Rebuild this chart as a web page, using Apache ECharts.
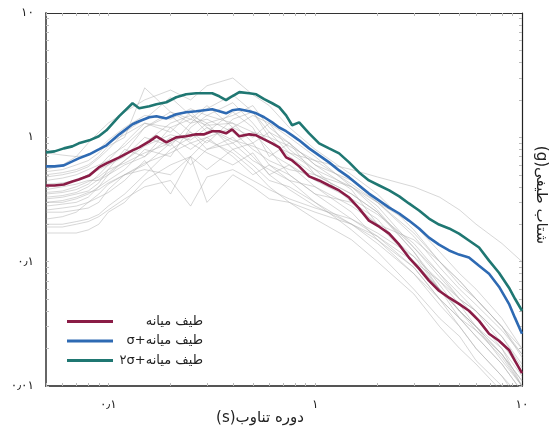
<!DOCTYPE html>
<html>
<head>
<meta charset="utf-8">
<script src="https://cdn.jsdelivr.net/npm/echarts@6/dist/echarts.min.js"></script>
<style>
  html, body { margin: 0; padding: 0; background: #fff; }
  #chart { width: 557px; height: 433px; }
</style>
</head>
<body>
<div id="chart"></div>
<script>
// periods (s) for the three summary curves
const periods = [0.05, 0.055, 0.061, 0.067, 0.072, 0.081, 0.09, 0.098, 0.113, 0.131, 0.141, 0.158, 0.171, 0.191,
  0.213, 0.238, 0.266, 0.291, 0.318, 0.344, 0.371, 0.397, 0.43, 0.48, 0.519, 0.567, 0.62, 0.67, 0.724, 0.774,
  0.837, 0.935, 1.045, 1.168, 1.306, 1.46, 1.63, 1.82, 2.04, 2.28, 2.55, 2.84, 3.18, 3.55, 3.97, 4.44, 4.96,
  5.54, 6.2, 6.93, 7.74, 8.65, 9.25, 10];

const median = [0.41, 0.41, 0.418, 0.442, 0.458, 0.494, 0.573, 0.617, 0.69, 0.786, 0.831, 0.928, 1.019, 0.911,
  1.0, 1.019, 1.057, 1.057, 1.118, 1.118, 1.077, 1.16, 1.019, 1.057, 1.038, 0.963, 0.895, 0.831, 0.69, 0.652,
  0.584, 0.485, 0.45, 0.41, 0.374, 0.328, 0.268, 0.214, 0.191, 0.168, 0.137, 0.108, 0.0878, 0.0703, 0.0584,
  0.0513, 0.0458, 0.0403, 0.0334, 0.0263, 0.0231, 0.0195, 0.0159, 0.0127];

const medianPlusSigma = [0.584, 0.584, 0.595, 0.64, 0.677, 0.73, 0.8, 0.862, 1.057, 1.273, 1.346, 1.45, 1.48, 1.42,
  1.533, 1.59, 1.62, 1.65, 1.68, 1.62, 1.56, 1.65, 1.68, 1.62, 1.56, 1.45, 1.32, 1.2, 1.12, 1.038,
  0.946, 0.815, 0.716, 0.629, 0.542, 0.476, 0.41, 0.353, 0.31, 0.272, 0.244, 0.214, 0.185, 0.156, 0.137,
  0.123, 0.114, 0.108, 0.0928, 0.08, 0.0629, 0.0458, 0.0353, 0.0263];

const medianPlus2Sigma = [0.757, 0.771, 0.815, 0.846, 0.895, 0.946, 1.019, 1.139, 1.48, 1.88, 1.714, 1.778, 1.845, 1.915,
  2.1, 2.22, 2.26, 2.26, 2.26, 2.14, 1.99, 2.14, 2.31, 2.26, 2.22, 2.03, 1.88, 1.75, 1.5, 1.25,
  1.32, 1.077, 0.895, 0.815, 0.743, 0.629, 0.522, 0.45, 0.41, 0.374, 0.335, 0.294, 0.258, 0.222, 0.199,
  0.185, 0.168, 0.148, 0.13, 0.102, 0.0815, 0.0617, 0.0503, 0.0403];

// individual record spectra (grey)
const recordPeriods = [0.05, 0.06, 0.07, 0.08, 0.09, 0.1, 0.12, 0.15, 0.2, 0.25, 0.3, 0.4, 0.5, 0.6, 0.75, 1, 1.5, 2, 3, 4, 5, 6, 8, 10];
const records = [
  [0.55, 0.6, 0.7, 0.9, 1.1, 1.3, 1.6, 2.0, 2.4, 2.0, 2.6, 3.0, 2.2, 1.8, 1.2, 0.8, 0.5, 0.35, 0.18, 0.1, 0.07, 0.05, 0.03, 0.02],
  [0.35, 0.36, 0.38, 0.42, 0.5, 0.6, 0.75, 1.2, 1.5, 1.1, 0.9, 1.4, 1.6, 1.0, 0.7, 0.5, 0.35, 0.25, 0.12, 0.06, 0.035, 0.025, 0.015, 0.009],
  [0.3, 0.3, 0.32, 0.35, 0.4, 0.45, 0.55, 0.8, 0.7, 1.2, 1.5, 1.3, 0.9, 1.1, 0.9, 0.6, 0.45, 0.3, 0.16, 0.09, 0.06, 0.045, 0.028, 0.018],
  [0.5, 0.52, 0.55, 0.6, 0.7, 0.85, 1.0, 2.5, 1.6, 1.4, 1.8, 1.2, 1.5, 1.3, 0.8, 0.55, 0.4, 0.28, 0.13, 0.08, 0.05, 0.04, 0.025, 0.015],
  [0.25, 0.25, 0.26, 0.27, 0.3, 0.38, 0.5, 0.6, 0.9, 0.6, 0.8, 1.0, 0.7, 0.5, 0.6, 0.4, 0.25, 0.15, 0.08, 0.05, 0.03, 0.02, 0.012, 0.007],
  [0.45, 0.47, 0.5, 0.55, 0.6, 0.65, 0.9, 1.3, 1.1, 1.6, 1.2, 0.9, 1.1, 0.8, 0.5, 0.35, 0.22, 0.16, 0.09, 0.05, 0.035, 0.028, 0.018, 0.011],
  [0.2, 0.2, 0.21, 0.22, 0.24, 0.28, 0.35, 0.5, 0.8, 1.0, 1.3, 0.8, 0.6, 0.45, 0.4, 0.3, 0.2, 0.14, 0.08, 0.045, 0.03, 0.02, 0.012, 0.008],
  [0.75, 0.72, 0.7, 0.72, 0.8, 0.95, 1.2, 1.5, 1.4, 1.7, 1.5, 1.9, 1.3, 0.9, 0.75, 0.65, 0.55, 0.48, 0.4, 0.33, 0.26, 0.2, 0.14, 0.1],
  [0.38, 0.4, 0.42, 0.45, 0.45, 0.5, 0.6, 0.7, 1.2, 0.9, 1.0, 0.7, 0.5, 0.6, 0.5, 0.35, 0.3, 0.22, 0.1, 0.06, 0.04, 0.03, 0.02, 0.012],
  [0.28, 0.29, 0.3, 0.33, 0.4, 0.5, 0.65, 0.9, 1.3, 1.5, 1.1, 1.6, 1.2, 0.7, 0.9, 0.6, 0.38, 0.2, 0.1, 0.07, 0.05, 0.035, 0.02, 0.01],
  [0.17, 0.17, 0.17, 0.18, 0.2, 0.25, 0.3, 0.45, 0.6, 0.7, 0.55, 0.8, 0.9, 0.6, 0.45, 0.3, 0.18, 0.12, 0.06, 0.035, 0.025, 0.016, 0.01, 0.006],
  [0.42, 0.43, 0.45, 0.5, 0.55, 0.6, 0.7, 1.0, 0.85, 1.3, 1.4, 1.1, 0.8, 0.65, 0.55, 0.5, 0.4, 0.3, 0.2, 0.12, 0.08, 0.06, 0.035, 0.02],
  [0.32, 0.33, 0.35, 0.37, 0.43, 0.55, 0.8, 0.7, 1.0, 0.8, 1.0, 1.2, 1.0, 1.3, 1.0, 0.7, 0.4, 0.26, 0.12, 0.065, 0.04, 0.03, 0.018, 0.01],
  [0.22, 0.23, 0.25, 0.3, 0.35, 0.42, 0.5, 0.55, 0.5, 0.7, 0.3, 0.5, 0.4, 0.32, 0.3, 0.25, 0.2, 0.15, 0.09, 0.05, 0.035, 0.025, 0.015, 0.009],
  [0.48, 0.5, 0.53, 0.58, 0.68, 0.8, 1.1, 1.4, 2.1, 1.5, 1.3, 1.5, 1.8, 1.2, 0.9, 0.5, 0.35, 0.25, 0.13, 0.075, 0.05, 0.04, 0.022, 0.013],
  [0.36, 0.37, 0.4, 0.44, 0.48, 0.55, 0.62, 0.75, 0.9, 1.1, 0.8, 0.9, 0.65, 0.55, 0.45, 0.4, 0.28, 0.2, 0.15, 0.1, 0.07, 0.05, 0.03, 0.017],
  [0.26, 0.27, 0.28, 0.3, 0.33, 0.36, 0.45, 0.65, 0.35, 0.7, 0.95, 0.75, 0.55, 0.4, 0.3, 0.22, 0.15, 0.1, 0.055, 0.03, 0.02, 0.015, 0.009, 0.006],
  [0.4, 0.42, 0.45, 0.5, 0.58, 0.7, 0.85, 1.2, 1.6, 1.3, 1.7, 2.2, 1.6, 1.1, 0.75, 0.55, 0.3, 0.2, 0.11, 0.06, 0.04, 0.03, 0.016, 0.01],
  [0.33, 0.34, 0.36, 0.4, 0.46, 0.52, 0.65, 0.85, 1.05, 0.95, 1.2, 0.95, 0.85, 0.75, 0.6, 0.45, 0.32, 0.24, 0.14, 0.08, 0.055, 0.04, 0.025, 0.014],
  [0.3, 0.31, 0.33, 0.36, 0.38, 0.43, 0.5, 0.62, 0.75, 0.9, 0.75, 0.6, 0.75, 0.5, 0.38, 0.28, 0.2, 0.16, 0.1, 0.06, 0.04, 0.028, 0.017, 0.01],
  [0.53, 0.55, 0.6, 0.65, 0.75, 0.9, 1.05, 1.3, 1.2, 1.4, 1.25, 1.3, 1.1, 1.0, 0.85, 0.65, 0.42, 0.3, 0.17, 0.1, 0.065, 0.05, 0.03, 0.018],
  [0.19, 0.19, 0.2, 0.21, 0.23, 0.26, 0.32, 0.4, 0.45, 0.28, 0.48, 0.55, 0.45, 0.38, 0.32, 0.27, 0.22, 0.17, 0.11, 0.07, 0.045, 0.03, 0.018, 0.011]
];

const seriesNames = ['طیف میانه', 'طیف میانه+σ', 'طیف میانه+۲σ'];
const seriesColors = ['#8a1c46', '#2e6ab3', '#1f7772'];

const xTickValues = [0.1, 1, 10];
const xTickLabels = ['۰٫۱', '۱', '۱۰'];
const yTickValues = [0.01, 0.1, 1, 10];
const yTickLabels = ['۰٫۰۱', '۰٫۱', '۱', '۱۰'];
const xTitle = 'دوره تناوب(s)';
const yTitle = 'شتاب طیفی(g)';

const FONT = '"DejaVu Sans", sans-serif';
const rtl = (s) => '\u202B' + s + '\u202C';

// log minor ticks (2..9 inside every decade)
function logTicks(lo, hi) {
  const out = [];
  for (let d = Math.floor(Math.log10(lo)); d < Math.ceil(Math.log10(hi)); d++) {
    for (let k = 1; k <= 9; k++) {
      const v = +(k * Math.pow(10, d)).toPrecision(6);
      if (v >= lo && v <= hi) out.push(v);
    }
  }
  return out;
}

function labelFor(values, labels) {
  return (v) => {
    const i = values.findIndex(t => Math.abs(t - v) / t < 1e-6);
    return i >= 0 ? labels[i] : '';
  };
}

function makeXAxis(pos, isMain) {
  return {
    type: 'log', logBase: 10, min: 0.05, max: 10, position: pos,
    axisLine: { show: true, onZero: false, lineStyle: { color: isMain ? '#555' : '#333', width: isMain ? 2 : 1.2 } },
    axisTick: { show: true, inside: true, length: 3, customValues: logTicks(0.05, 10), lineStyle: { color: '#bbb' } },
    axisLabel: {
      show: isMain, customValues: xTickValues, formatter: labelFor(xTickValues, xTickLabels),
      margin: 13, fontFamily: FONT, fontSize: 12, color: '#222'
    },
    splitLine: { show: false }
  };
}

function makeYAxis(pos, isMain) {
  return {
    type: 'log', logBase: 10, min: 0.01, max: 10, position: pos,
    axisLine: { show: true, onZero: false, lineStyle: { color: isMain ? '#666' : '#222', width: isMain ? 2 : 1.2 } },
    axisTick: { show: true, inside: true, length: 3, customValues: logTicks(0.01, 10), lineStyle: { color: '#bbb' } },
    axisLabel: {
      show: isMain, customValues: yTickValues, formatter: labelFor(yTickValues, yTickLabels),
      margin: 12, fontFamily: FONT, fontSize: 12, color: '#222'
    },
    splitLine: { show: false }
  };
}

const recordSeries = records.map((rec, r) => ({
  name: 'record' + (r + 1),
  type: 'line',
  data: recordPeriods.map((t, i) => [t, rec[i]]),
  symbol: 'none',
  silent: true,
  z: 1,
  lineStyle: { color: 'rgba(175,175,175,0.5)', width: 1 }
}));

const summarySeries = [median, medianPlusSigma, medianPlus2Sigma].map((vals, s) => ({
  name: seriesNames[s],
  type: 'line',
  data: periods.map((t, i) => [t, vals[i]]),
  symbol: 'none',
  z: 3 + s,
  color: seriesColors[s],
  lineStyle: { color: seriesColors[s], width: 2.6 }
}));

const chart = echarts.init(document.getElementById('chart'));
chart.setOption({
  animation: false,
  backgroundColor: '#fff',
  grid: { left: 46, right: 35, top: 13, bottom: 47, containLabel: false },
  xAxis: [makeXAxis('bottom', true), makeXAxis('top', false)],
  yAxis: [makeYAxis('left', true), makeYAxis('right', false)],
  legend: {
    data: seriesNames,
    orient: 'vertical',
    left: 62,
    top: 310,
    icon: 'rect',
    itemWidth: 46,
    itemHeight: 3,
    itemGap: 6.5,
    formatter: (name) => '{t|' + rtl(name) + '}',
    textStyle: {
      rich: { t: { width: 85, align: 'right', fontFamily: FONT, fontSize: 13, color: '#222' } }
    }
  },
  graphic: [
    {
      type: 'text', x: 260, y: 418,
      style: { text: rtl(xTitle), font: '15px ' + FONT, fill: '#222', align: 'center', verticalAlign: 'middle' }
    },
    {
      type: 'text', x: 541, y: 195, rotation: -Math.PI / 2,
      style: { text: rtl(yTitle), font: '15px ' + FONT, fill: '#222', align: 'center', verticalAlign: 'middle' }
    }
  ],
  series: recordSeries.concat(summarySeries)
});
</script>
</body>
</html>
